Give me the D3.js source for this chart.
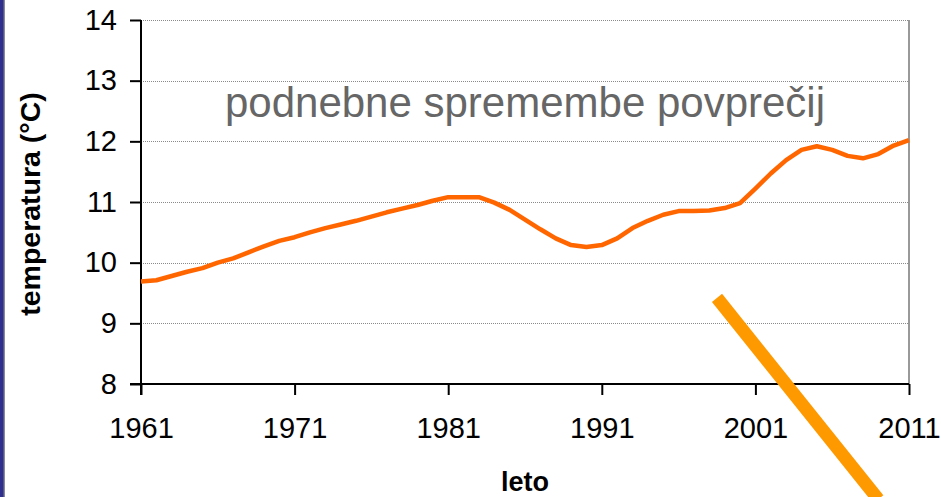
<!DOCTYPE html>
<html lang="sl">

<head>
    <meta charset="UTF-8">
    <title>podnebne spremembe</title>
    <script src="https://cdn.jsdelivr.net/npm/d3@7"></script>
    <style>
    body{
        margin: 0;
        background: #fff;
    }
    svg text{
        font-family: "Liberation Sans", Arial, sans-serif;
    }
    .grid-line{
        stroke: #8a8a8a;
        stroke-width: 1;
        stroke-dasharray: 1,1;
        shape-rendering: crispEdges;
    }
    </style>
</head>

<body>
    <div id="root"></div>

    <script>
        // podatki (letna povprečja, odčitano s slike)
        let years = d3.range(1961, 2012)
        let temps = [
            9.69, 9.71, 9.78, 9.85, 9.91, 10.00, 10.07, 10.17, 10.27, 10.36,
            10.42, 10.50, 10.57, 10.63, 10.69, 10.76, 10.83, 10.89, 10.95, 11.02,
            11.08, 11.08, 11.08, 10.99, 10.87, 10.71, 10.55, 10.40, 10.29, 10.26,
            10.29, 10.40, 10.57, 10.69, 10.79, 10.85, 10.85, 10.86, 10.90, 10.98,
            11.22, 11.47, 11.69, 11.86, 11.92, 11.86, 11.76, 11.72, 11.79, 11.93,
            12.02
        ]
        let xTicks = [1961, 1971, 1981, 1991, 2001, 2011]
        let yTicks = [8, 9, 10, 11, 12, 13, 14]
        // okrasna puščica (leto, temperatura)
        let arrowYears = [1998.5, 2009.0]
        let arrowTemps = [9.42, 6.1]

        let width = 941, height = 497
        let mLeft = 141, mRight = 909, mTop = 20, mBottom = 384

        let svg = d3.select("#root").append("svg").attr("width", width).attr("height", height)

        svg.append("rect").attr("x", 0).attr("y", 0).attr("width", 3.5).attr("height", height).attr("fill", "#2e2f8e")
        svg.append("rect").attr("x", 3.5).attr("y", 0).attr("width", 1).attr("height", height).attr("fill", "#15163f")

        let x = d3.scaleLinear().domain([1961, 2011]).range([mLeft, mRight])
        let y = d3.scaleLinear().domain([8, 14]).range([mBottom, mTop])

        // mreža
        svg.append("g").selectAll("line").data(yTicks.filter(d => d > 8)).enter()
            .append("line").classed("grid-line", true)
            .attr("x1", mLeft).attr("x2", mRight)
            .attr("y1", d => y(d) + 0.5).attr("y2", d => y(d) + 0.5)

        // desni rob
        svg.append("line").attr("x1", mRight).attr("x2", mRight).attr("y1", mTop).attr("y2", mBottom)
            .attr("stroke", "#999").attr("stroke-width", 2)

        function renderYAxis() {
            let axis = d3.axisLeft(y).tickValues(yTicks).tickSize(11).tickPadding(13).tickFormat(d3.format("d"))
            let g = svg.append("g").attr("transform", "translate(" + mLeft + ",0)").call(axis)
            g.select(".domain").remove()
            g.selectAll(".tick line").attr("stroke", "#000").attr("stroke-width", 2)
            g.selectAll(".tick text").attr("font-size", 29).attr("fill", "#000")
                .style("font-family", "'Liberation Sans', Arial, sans-serif")
            svg.append("line").attr("x1", mLeft).attr("x2", mLeft).attr("y1", mTop).attr("y2", mBottom + 11)
                .attr("stroke", "#000").attr("stroke-width", 2)
        }

        function renderXAxis() {
            let axis = d3.axisBottom(x).tickValues(xTicks).tickSize(11).tickPadding(22).tickFormat(d3.format("d"))
            let g = svg.append("g").attr("transform", "translate(0," + mBottom + ")").call(axis)
            g.select(".domain").remove()
            g.selectAll(".tick line").attr("stroke", "#000").attr("stroke-width", 2)
            g.selectAll(".tick text").attr("font-size", 29).attr("fill", "#000")
                .style("font-family", "'Liberation Sans', Arial, sans-serif")
            svg.append("line").attr("x1", mLeft - 11).attr("x2", mRight).attr("y1", mBottom).attr("y2", mBottom)
                .attr("stroke", "#000").attr("stroke-width", 2)
        }

        renderYAxis()
        renderXAxis()

        // krivulja
        let line = d3.line().x((d, i) => x(years[i])).y(d => y(d))
        svg.append("path").datum(temps).attr("d", line)
            .attr("fill", "none").attr("stroke", "#ff6600").attr("stroke-width", 4.5)
            .attr("stroke-linejoin", "round")

        // naslov v grafu
        svg.append("text").attr("x", (mLeft + mRight) / 2).attr("y", 117)
            .attr("text-anchor", "middle").attr("font-size", 42).attr("fill", "#666")
            .text("podnebne spremembe povprečij")

        // oznake osi
        svg.append("text").attr("x", (mLeft + mRight) / 2).attr("y", 491)
            .attr("text-anchor", "middle").attr("font-size", 27).attr("font-weight", "bold")
            .text("leto")
        svg.append("text").attr("transform", "translate(40,204) rotate(-90)")
            .attr("text-anchor", "middle").attr("font-size", 28.5).attr("font-weight", "bold")
            .text("temperatura (°C)")

        // puščica
        svg.append("line")
            .attr("x1", x(arrowYears[0])).attr("y1", y(arrowTemps[0]))
            .attr("x2", x(arrowYears[1])).attr("y2", y(arrowTemps[1]))
            .attr("stroke", "#ff9900").attr("stroke-width", 13)
    </script>
</body>

</html>
